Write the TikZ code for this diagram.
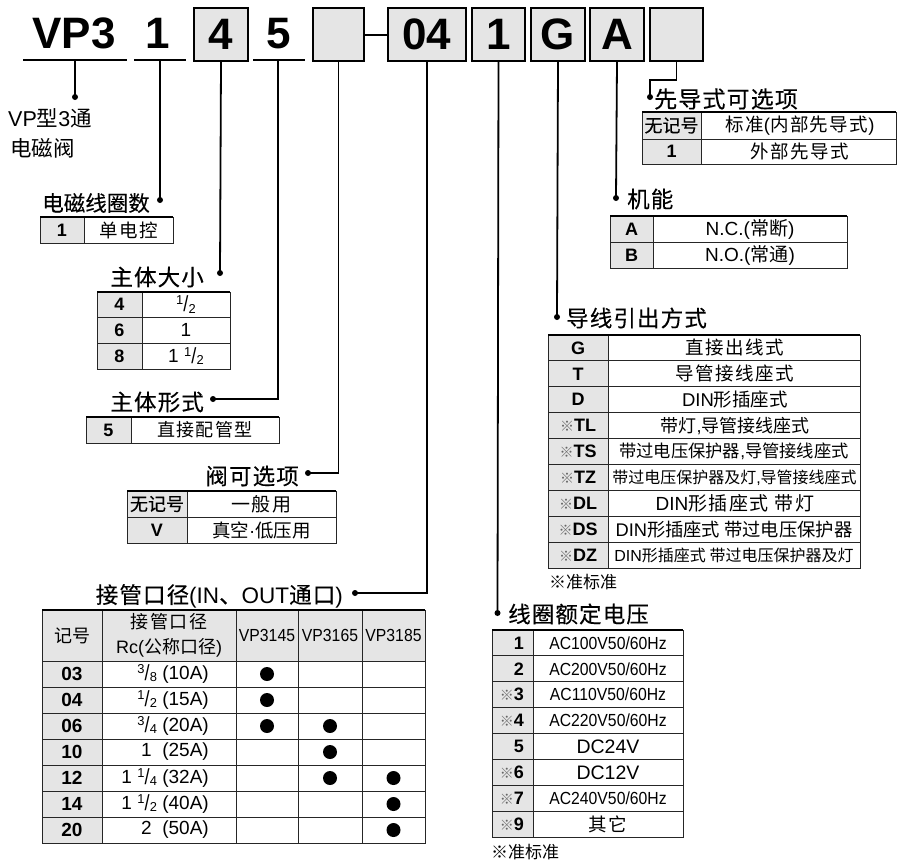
\documentclass[tikz,border=0pt]{standalone}
\usepackage{fontspec}
\usepackage{graphicx}
\setmainfont{Liberation Sans}
\newfontfamily\zhf{Noto Sans CJK SC}
\newfontfamily\zhs[LetterSpace=8]{Noto Sans CJK SC}
\newfontfamily\zht[LetterSpace=5,FakeBold=0.25]{Noto Sans CJK SC}
\newfontfamily\zhtb[FakeBold=0.25]{Noto Sans CJK SC}
\newfontfamily\narrowf[FakeStretch=0.9]{Liberation Sans}
\newcommand\lt[1]{{\rmfamily #1}}
\newcommand\fs[1]{\fontsize{#1}{#1}\selectfont}
\newcommand\fr[2]{\raisebox{0.36em}{\scalebox{0.68}{#1}}\kern0.01em\raisebox{-0.02em}{\scalebox{0.95}[1.15]{/}}\kern0.01em\raisebox{-0.1em}{\scalebox{0.68}{#2}}}
\newcommand\km{{\zhf\fs{14}\color{black!60}※}}
\definecolor{keyfill}{gray}{0.9}
\tikzset{
  hbox/.style={draw=black, line width=2, fill=keyfill, minimum width=#1, minimum height=53,
    inner sep=0, anchor=north west, font=\fs{44}\bfseries},
  hlbl/.style={font=\fs{44}\bfseries, inner sep=0},
  uline/.style={line width=2},
  conn/.style={line width=1.8},
  ttl/.style={font=\fs{22.5}\zht, inner sep=0},
  tline/.style={line width=0.9, draw=black!85},
  ttop/.style={line width=2},
  kt/.style={font=\fs{18}\bfseries, inner sep=0},
  vt/.style={font=\fs{18}\zhs, inner sep=0},
  note/.style={font=\fs{17}\zhf, inner sep=0, anchor=west},
}
\begin{document}
\begin{tikzpicture}[x=1pt,y=-1pt]
\useasboundingbox (0,0) rectangle (897,860);

% ---------- header ----------
\node[hlbl] (hVP) at (74,33.5) {VP3};
\node[hlbl] (h1) at (158,33.5) {1};
\node[hlbl] (h5) at (279,33.5) {5};
\draw[uline] (23,60) -- coordinate[pos=0.50] (uVP) (127,60);
\draw[uline] (134,60) -- coordinate[pos=0.50] (u1) (186,60);
\draw[uline] (253,60) -- coordinate[pos=0.48] (u5) (305,60);
\node[hbox=54] (b4) at (193,7) {4};
\node[hbox=51] (bV) at (312,7) {};
\node[hbox=78] (b04) at (387,7) {04};
\node[hbox=53] (b1) at (471,7) {1};
\node[hbox=54] (bG) at (530,7) {G};
\node[hbox=54] (bA) at (589,7) {A};
\node[hbox=53] (bP) at (649,7) {};
\draw[uline] (bV.east) -- (b04.west);

% ---------- dots ----------
\coordinate (dVP) at (75,97);
\coordinate (d1) at (160,200);
\coordinate (d4) at (220,273);
\coordinate (d5) at (213,399);
\coordinate (dV) at (308,473);
\coordinate (d04) at (355,593);
\coordinate (dC) at (497.5,613);
\coordinate (dG) at (557,317);
\coordinate (dA) at (616,198);
\coordinate (dP) at (650,97);

\draw[conn] (uVP) -- (dVP);
\draw[conn] (u1) -- (d1);
\draw[conn] (b4.south) -- (d4);
\draw[conn] (u5) |- (d5);
\draw[conn] (bV.south) |- (dV);
\draw[conn] (b04.south) |- (d04);
\draw[conn] (b1.south) -- (dC);
\draw[conn] (bG.south) -- (dG);
\draw[conn] (bA.south) -- (dA);
\draw[conn] (bP.south) -- ++(0,18) -| (dP);
\foreach \d in {dVP,d1,d4,d5,dV,d04,dC,dG,dA,dP} \fill (\d) circle (3);

% ---------- titles ----------
\node[font=\fs{21.5}, inner sep=0, anchor=west] (nVP1) at (8,118) {VP{\zhf 型}3{\zhf 通}};
\node[font=\fs{21.5}\zhf, inner sep=0, anchor=west] (nVP2) at (10,148) {电磁阀};
\node[ttl, font=\fs{21.5}\zhtb, anchor=east] (t1) at (150,203) {电磁线圈数};
\node[ttl, anchor=east] (t2) at (204,277) {主体大小};
\node[ttl, anchor=east] (t3) at (204,402) {主体形式};
\node[ttl, anchor=east] (t4) at (299,476) {阀可选项};
\node[ttl, anchor=east] (t9) at (343,596) {接管口径\lt{(IN}、\lt{OUT}通口\lt{)}};
\node[ttl, font=\fs{23}\zht, anchor=west] (t5) at (654,99) {先导式可选项};
\node[ttl, anchor=west] (t6) at (627,199) {机能};
\node[ttl, anchor=west] (t7) at (566,318) {导线引出方式};
\node[ttl, anchor=west] (t8) at (508,614) {线圈额定电压};

% ---------- table 1 ----------
\fill[keyfill] (40,217) rectangle (84,243);
\draw[tline] (40,217) rectangle (173,243);
\draw[tline] (84,217) -- (84,243);
\draw[ttop] (40,217) -- (173,217);
\node[kt] (k1a) at (62,230) {1};
\node[vt, font=\fs{18.5}\zhs] (v1a) at (128.5,230) {单电控};

% ---------- table 2 ----------
\fill[keyfill] (97,292) rectangle (142,369);
\draw[tline] (97,292) rectangle (230,369);
\draw[tline] (142,292) -- (142,369);
\draw[tline] (97,317) -- (230,317);
\draw[tline] (97,343) -- (230,343);
\draw[ttop] (97,292) -- (230,292);
\node[kt] (k2a) at (119.5,304.5) {4};
\node[kt] (k2b) at (119.5,330) {6};
\node[kt] (k2c) at (119.5,356) {8};
\node[font=\fs{19}, inner sep=0] (v2a) at (186,304.5) {\fr12};
\node[font=\fs{19}, inner sep=0] (v2b) at (186,330) {1};
\node[font=\fs{19}, inner sep=0] (v2c) at (186,356) {1 \fr12};

% ---------- table 3 ----------
\fill[keyfill] (86,417) rectangle (131,443);
\draw[tline] (86,417) rectangle (279,443);
\draw[tline] (131,417) -- (131,443);
\draw[ttop] (86,417) -- (279,417);
\node[kt] (k3a) at (108.5,430) {5};
\node[vt] (v3a) at (205,430) {直接配管型};

% ---------- table 4 ----------
\fill[keyfill] (127,491) rectangle (187,543);
\draw[tline] (127,491) rectangle (336,543);
\draw[tline] (187,491) -- (187,543);
\draw[tline] (127,517) -- (336,517);
\draw[ttop] (127,491) -- (336,491);
\node[font=\fs{18}\zhtb, inner sep=0] (k4a) at (157,504) {无记号};
\node[kt] (k4b) at (157,530) {V};
\node[vt, font=\fs{19}\zhs] (v4a) at (261.5,504) {一般用};
\node[vt, font=\fs{18.5}\zhf] (v4b) at (261.5,530) {真空{\rmfamily\textperiodcentered}低压用};

% ---------- table 5 ----------
\fill[keyfill] (642,112) rectangle (701,164);
\draw[tline] (642,112) rectangle (896,164);
\draw[tline] (701,112) -- (701,164);
\draw[tline] (642,139) -- (896,139);
\draw[ttop] (642,112) -- (896,112);
\node[font=\fs{18}\zhtb, inner sep=0] (k5a) at (671.5,125.5) {无记号};
\node[kt] (k5b) at (671.5,151.5) {1};
\node[vt, font=\fs{18.5}\zhs] (v5a) at (800,125.5) {标准\lt{(}内部先导式\lt{)}};
\node[vt, font=\fs{18.5}\zhs] (v5b) at (800,151.5) {外部先导式};

% ---------- table 6 ----------
\fill[keyfill] (610,216) rectangle (653,268);
\draw[tline] (610,216) rectangle (847,268);
\draw[tline] (653,216) -- (653,268);
\draw[tline] (610,242) -- (847,242);
\draw[ttop] (610,216) -- (847,216);
\node[kt] (k6a) at (631.5,229) {A};
\node[kt] (k6b) at (631.5,255) {B};
\node[vt, font=\fs{19}\zhf] (v6a) at (750,229) {\lt{N.C.(}常断\lt{)}};
\node[vt, font=\fs{19}\zhf] (v6b) at (750,255) {\lt{N.O.(}常通\lt{)}};

% ---------- table 7 ----------
\fill[keyfill] (548,335) rectangle (608,568.1);
\foreach \y in {360.9,386.8,412.7,438.6,464.5,490.4,516.3,542.2}
  \draw[tline] (548,\y) -- (860,\y);
\draw[tline] (548,335) rectangle (860,568.1);
\draw[tline] (608,335) -- (608,568.1);
\draw[ttop] (548,335) -- (860,335);
\node[kt] (k7a) at (578,347.95) {G};
\node[kt] (k7b) at (578,373.85) {T};
\node[kt] (k7c) at (578,399.75) {D};
\node[kt] (k7d) at (578,425.65) {\km TL};
\node[kt] (k7e) at (578,451.55) {\km TS};
\node[kt] (k7f) at (578,477.45) {\km TZ};
\node[kt] (k7g) at (578,503.35) {\km DL};
\node[kt] (k7h) at (578,529.25) {\km DS};
\node[kt] (k7i) at (578,555.15) {\km DZ};
\node[vt, font=\fs{18.5}\zhs] (v7a) at (735,347.95) {直接出线式};
\node[vt, font=\fs{18.5}\zhs] (v7b) at (735,373.85) {导管接线座式};
\node[vt, font=\fs{18.5}\zhf] (v7c) at (735,399.75) {\lt{DIN}形插座式};
\node[vt, font=\fs{18}\zhf] (v7d) at (735,425.65) {带灯\lt{,}导管接线座式};
\node[vt, font=\fs{17.3}\zhf] (v7e) at (734,451.55) {带过电压保护器\lt{,}导管接线座式};
\node[vt, font=\fs{16}\zhf] (v7f) at (734.5,477.45) {带过电压保护器及灯\lt{,}导管接线座式};
\node[vt, font=\fs{19}\zhs] (v7g) at (735,503.35) {\lt{DIN}形插座式 带灯};
\node[vt, font=\fs{18.3}\zhf] (v7h) at (734,529.25) {\lt{DIN}形插座式 带过电压保护器};
\node[vt, font=\fs{16}\zhf] (v7i) at (734,555.15) {\lt{DIN}形插座式 带过电压保护器及灯};
\node[note] (n7) at (549,582) {※准标准};

% ---------- table 8 ----------
\fill[keyfill] (492,630) rectangle (533,837);
\foreach \y in {655.9,681.75,707.6,733.5,759.4,785.25,811.1}
  \draw[tline] (492,\y) -- (683,\y);
\draw[tline] (492,630) rectangle (683,837);
\draw[tline] (533,630) -- (533,837);
\draw[ttop] (492,630) -- (683,630);
\node[kt, anchor=east] (k8a) at (524,642.9) {1};
\node[kt, anchor=east] (k8b) at (524,668.8) {2};
\node[kt, anchor=east] (k8c) at (524,694.7) {\km 3};
\node[kt, anchor=east] (k8d) at (524,720.6) {\km 4};
\node[kt, anchor=east] (k8e) at (524,746.5) {5};
\node[kt, anchor=east] (k8f) at (524,772.3) {\km 6};
\node[kt, anchor=east] (k8g) at (524,798.2) {\km 7};
\node[kt, anchor=east] (k8h) at (524,824.1) {\km 9};
\tikzset{ac/.style={font=\fs{17.5}\narrowf, inner sep=0}}
\node[ac] (v8a) at (608,642.9) {AC100V50/60Hz};
\node[ac] (v8b) at (608,668.8) {AC200V50/60Hz};
\node[ac] (v8c) at (608,694.7) {AC110V50/60Hz};
\node[ac] (v8d) at (608,720.6) {AC220V50/60Hz};
\node[font=\fs{19.5}, inner sep=0] (v8e) at (608,746.5) {DC24V};
\node[font=\fs{19.5}, inner sep=0] (v8f) at (608,772.3) {DC12V};
\node[ac] (v8g) at (608,798.2) {AC240V50/60Hz};
\node[vt, font=\fs{18.5}\zhs] (v8h) at (608,824.1) {其它};
\node[note] (n8) at (491,852) {※准标准};

% ---------- table 9 ----------
\fill[keyfill] (42,610) rectangle (425,661);
\fill[keyfill] (42,661) rectangle (102,843);
\foreach \y in {661,687,713,739,765,791,817}
  \draw[tline] (42,\y) -- (425,\y);
\foreach \x in {102,236,298,362}
  \draw[tline] (\x,610) -- (\x,843);
\draw[tline] (42,610) rectangle (425,843);
\draw[ttop] (42,610) -- (425,610);
\node[font=\fs{18}\zhf, inner sep=0] (h9a) at (72,635.5) {记号};
\node[font=\fs{18}\zhs, inner sep=0] (h9b) at (169,622) {接管口径};
\node[font=\fs{18}\zhf, inner sep=0] (h9c) at (169,648) {\lt{Rc(}公称口径\lt{)}};
\node[ac] (h9d) at (267,635.5) {VP3145};
\node[ac] (h9e) at (330,635.5) {VP3165};
\node[ac] (h9f) at (393.5,635.5) {VP3185};
\foreach \k/\y [count=\i] in {03/674,04/700,06/726,10/752,12/778,14/804,20/830}
  \node[kt, font=\fs{19}\bfseries] (k9\i) at (72,\y) {\k};
\tikzset{sz/.style={font=\fs{19}, inner sep=0, anchor=east}}
\node[sz] (v9a) at (209,674) {\fr38 (10A)};
\node[sz] (v9b) at (209,700) {\fr12 (15A)};
\node[sz] (v9c) at (209,726) {\fr34 (20A)};
\node[sz] (v9d) at (209,752) {1\ \ (25A)};
\node[sz] (v9e) at (209,778) {1 \fr14 (32A)};
\node[sz] (v9f) at (209,804) {1 \fr12 (40A)};
\node[sz] (v9g) at (209,830) {2\ \ (50A)};
\foreach \x/\y in {267/674,267/700,267/726,330/726,330/752,330/778,393.5/778,393.5/804,393.5/830}
  \fill (\x,\y) circle (7);
\end{tikzpicture}
\end{document}
